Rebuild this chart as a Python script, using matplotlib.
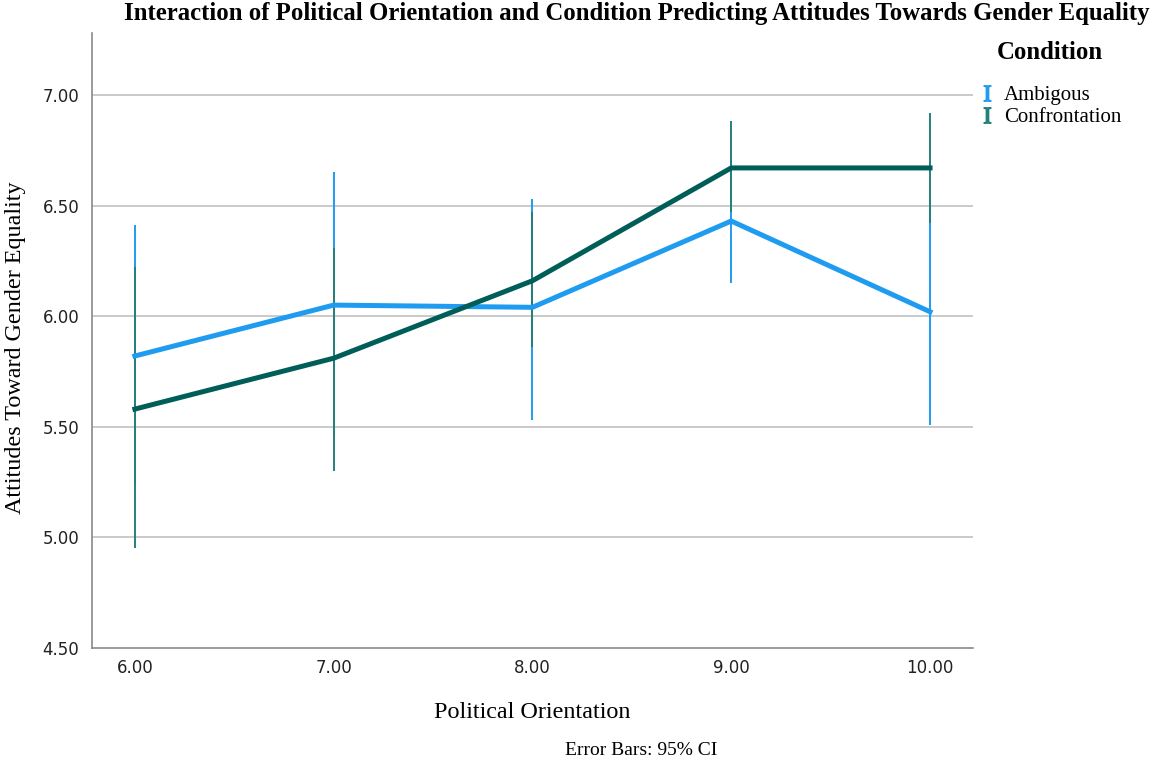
import numpy as np
import matplotlib
matplotlib.use('Agg')
import matplotlib.pyplot as plt
from matplotlib.lines import Line2D

plt.rcParams['mathtext.fontset'] = 'stix'

# political orientation levels
orientation = [6.0, 7.0, 8.0, 9.0, 10.0]
conditions = ['Ambigous', 'Confrontation']

# group means and 95% CI bounds
amb_mean = [5.82, 6.05, 6.04, 6.43, 6.02]
amb_low = [5.24, 5.46, 5.53, 6.15, 5.51]
amb_high = [6.41, 6.65, 6.53, 6.71, 6.53]

con_mean = [5.58, 5.81, 6.16, 6.67, 6.67]
con_low = [4.95, 5.30, 5.86, 6.47, 6.42]
con_high = [6.22, 6.31, 6.47, 6.88, 6.92]

yticks = [4.5, 5.0, 5.5, 6.0, 6.5, 7.0]

amb_col = '#1f9cf0'
con_col = '#005e59'
con_bar = '#24807b'

serif = ['Liberation Serif', 'DejaVu Serif']
sans = ['DejaVu Sans']

fig = plt.figure(figsize=(11.58, 7.65), dpi=100)
ax = fig.add_axes([0.0794, 0.1529, 0.7608, 0.804])

for y in yticks[1:]:
	ax.axhline(y, color='#c6c6c6', lw=1.3, zorder=0)

# thin CI bars, no caps
ax.vlines(orientation, amb_low, amb_high, color=amb_col, lw=1.4, zorder=2)
ax.vlines(orientation, con_low, con_high, color=con_bar, lw=1.4, zorder=3)
ax.plot(orientation, amb_mean, color=amb_col, lw=3.6, zorder=4, solid_joinstyle='miter')
ax.plot(orientation, con_mean, color=con_col, lw=3.6, zorder=5, solid_joinstyle='miter')

ax.set_xlim(5.784, 10.216)
ax.set_ylim(4.5, 7.28)
ax.set_xticks(orientation)
ax.set_xticklabels(['%.2f' % v for v in orientation], family=sans, fontsize=12, color='#222222')
ax.set_yticks(yticks)
ax.set_yticklabels(['%.2f' % v for v in yticks], family=sans, fontsize=12, color='#222222')
ax.tick_params(axis='y', length=0, pad=9)
ax.tick_params(axis='x', length=0, pad=8)

for s in ['top', 'right']:
	ax.spines[s].set_visible(False)
for s in ['left', 'bottom']:
	ax.spines[s].set_color('#8a8a8a')
	ax.spines[s].set_linewidth(1.2)

ax.set_xlabel('Political Orientation', family=serif, fontsize=17.4, labelpad=18)
fig.text(0.013, 0.546, 'Attitudes Toward Gender Equality', rotation=90, ha='center', va='center',
	family=serif, fontsize=17.4)

fig.text(0.55, 0.982, 'Interaction of Political Orientation and Condition Predicting Attitudes Towards Gender Equality',
	ha='center', va='center', family=serif, fontsize=17.8, fontweight='bold')
fig.text(0.554, 0.019, 'Error Bars: 95% CI', ha='center', va='center', family=serif, fontsize=14)

# legend: title drawn separately so it can sit apart from the entries
fig.text(0.861, 0.931, 'Condition', ha='left', va='center', family=serif, fontsize=17.8, fontweight='bold')
handles = [Line2D([], [], ls='none', marker='$\\mathrm{I}$', markersize=11, color=c)
	for c in (amb_col, con_bar)]
fig.legend(handles, conditions, loc='center left', bbox_to_anchor=(0.831, 0.861),
	frameon=False, prop={'family': serif, 'size': 15}, handlelength=0.6,
	handletextpad=0.5, labelspacing=0.1)

fig.savefig('out.png', dpi=100)
